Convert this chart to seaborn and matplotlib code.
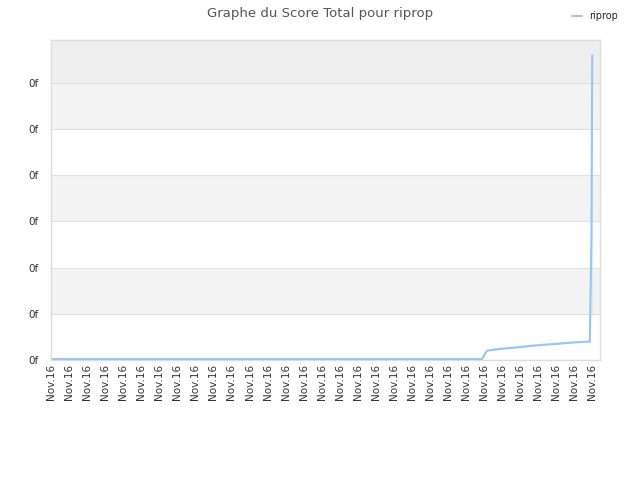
import matplotlib
matplotlib.use("Agg")
import matplotlib.pyplot as plt
import seaborn as sns
import pandas as pd

# Data (x in tick-index units, y in grid units)
x_vals = [0.11, 23.88, 24.15, 24.45, 24.45, 25.1, 25.1, 25.7, 25.7, 26.35, 26.35, 27.0, 27.0,
          27.65, 27.65, 28.3, 28.3, 28.94, 28.94, 29.58, 29.58, 29.86, 29.88, 29.95, 29.95, 29.99]
y_vals = [0.02, 0.02, 0.20, 0.20, 0.238, 0.238, 0.26, 0.26, 0.28, 0.28, 0.31, 0.31, 0.33,
          0.33, 0.35, 0.35, 0.37, 0.37, 0.39, 0.39, 0.40, 0.40, 1.0, 1.0, 4.5, 6.6]
x_labels = ["Nov.16"] * 31
y_ticks = [0, 1, 2, 3, 4, 5, 6]
y_labels = ["0f"] * 7
series_name = "riprop"

df = pd.DataFrame({"x": x_vals, "score": y_vals, "joueur": series_name})

sns.set_style("white")
plt.rcParams["font.family"] = ["DejaVu Sans"]

fig = plt.figure(figsize=(6.4, 4.8), dpi=100)
ax = fig.add_axes([51 / 640, 120 / 480, 549 / 640, 320 / 480])

ymax = 6.93
# alternating horizontal bands
for i in range(len(y_ticks)):
    lo = y_ticks[i]
    hi = y_ticks[i + 1] if i + 1 < len(y_ticks) else ymax
    if i == len(y_ticks) - 1:
        ax.axhspan(lo, hi, color="#eeeeee", zorder=0, lw=0)
    elif i % 2 == 1:
        ax.axhspan(lo, hi, color="#f3f3f3", zorder=0, lw=0)
for t in y_ticks[1:]:
    ax.axhline(t, color="#e0e0e0", lw=0.8, zorder=1)

sns.lineplot(data=df, x="x", y="score", hue="joueur", palette=["#99c5f3"],
             sort=False, linewidth=1.5, ax=ax, zorder=3)

ax.set_xlim(0, 30.42)
ax.set_ylim(0, ymax)
ax.set_xticks(range(len(x_labels)))
ax.set_xticklabels(x_labels, rotation=90, fontsize=7.5, color="#333333")
ax.set_yticks(y_ticks)
ax.set_yticklabels(y_labels, fontsize=7.5, color="#333333")
ax.tick_params(axis="y", length=0, pad=9)
ax.tick_params(axis="x", length=0, pad=3)
ax.set_xlabel("")
ax.set_ylabel("")
for s in ax.spines.values():
    s.set_color("#dddddd")
    s.set_linewidth(1)

fig.suptitle("Graphe du Score Total pour riprop", x=0.5, y=0.985, fontsize=9.5, color="#555555")
leg = ax.legend(loc="upper right", bbox_to_anchor=(0.98, 0.995), bbox_transform=fig.transFigure,
                frameon=False, fontsize=7, handlelength=1.0, title=None)

fig.savefig("out.png", dpi=100)
